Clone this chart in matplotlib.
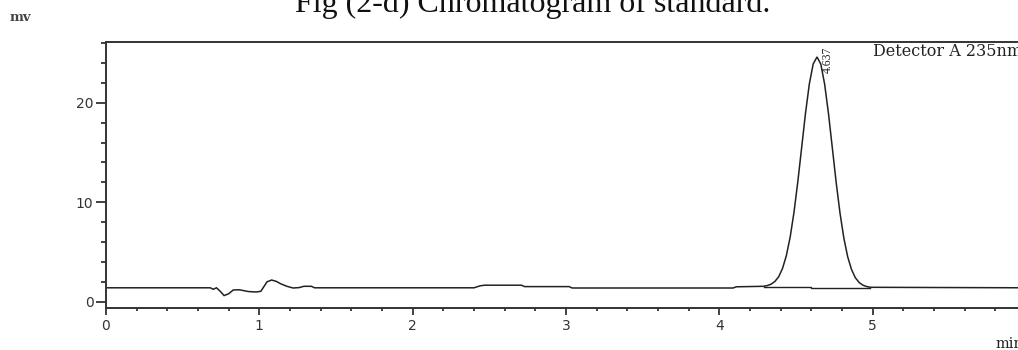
import matplotlib
matplotlib.use("Agg")
import matplotlib.pyplot as plt
from matplotlib.ticker import MultipleLocator

# ---- data (time in min, signal in mV) ----
trace_time = [0.0, 0.68, 0.70, 0.72, 0.745, 0.77, 0.80, 0.83, 0.87, 0.93, 0.98,
              1.01, 1.05, 1.08, 1.11, 1.14, 1.18, 1.22, 1.26, 1.29, 1.34, 1.36,
              2.40, 2.44, 2.47, 2.71, 2.73, 3.02, 3.04, 4.09, 4.11,
              4.287, 4.312, 4.337, 4.362, 4.387, 4.412, 4.437, 4.462, 4.487,
              4.512, 4.537, 4.562, 4.587, 4.612, 4.637,
              4.662, 4.687, 4.712, 4.737, 4.762, 4.787, 4.812, 4.837, 4.862,
              4.887, 4.912, 4.937, 4.962, 4.987, 6.0]
trace_mv = [1.40, 1.40, 1.25, 1.40, 1.05, 0.62, 0.80, 1.18, 1.20, 1.02, 0.98,
            1.05, 2.00, 2.18, 2.05, 1.80, 1.55, 1.38, 1.42, 1.55, 1.55, 1.40,
            1.40, 1.60, 1.66, 1.66, 1.52, 1.52, 1.38, 1.38, 1.50,
            1.55, 1.62, 1.76, 2.03, 2.51, 3.34, 4.63, 6.50, 9.00,
            12.08, 15.51, 18.94, 21.89, 23.89, 24.60,
            23.87, 21.84, 18.88, 15.45, 11.99, 8.91, 6.40, 4.52, 3.24,
            2.41, 1.93, 1.66, 1.52, 1.45, 1.40]

# integration baseline drawn under the peak
base_time = [4.29, 4.60, 4.60, 4.98]
base_mv = [1.50, 1.50, 1.40, 1.40]

peak_rt = 4.637
peak_label = "4.637"
x_major = [0, 1, 2, 3, 4, 5, 6]
y_major = [0, 10, 20]

title = "Fig (2-d) Chromatogram of standard."
detector = "Detector A 235nm"

# ---- figure ----
fig = plt.figure(figsize=(10.18, 3.5), dpi=100)
ax = fig.add_axes([106 / 1018, 42 / 350, 920 / 1018, 266 / 350])

ink = "#222222"
ax.plot(trace_time, trace_mv, color=ink, lw=1.1, solid_joinstyle="miter")
ax.plot(base_time, base_mv, color=ink, lw=1.0)

ax.set_xlim(0, 6)
ax.set_ylim(-0.63, 26.1)

for s in ["left", "bottom", "top"]:
    ax.spines[s].set_color("#333333")
    ax.spines[s].set_linewidth(1.4)
ax.spines["right"].set_visible(False)

ax.set_xticks(x_major)
ax.set_xticklabels([str(v) for v in x_major])
ax.xaxis.set_minor_locator(MultipleLocator(0.2))
ax.set_yticks(y_major)
ax.set_yticklabels([str(v) for v in y_major])
ax.yaxis.set_minor_locator(MultipleLocator(2))

ax.tick_params(axis="both", which="major", direction="out", length=7,
               width=1.3, color="#333333", labelsize=10, labelcolor="#333333",
               pad=2)
ax.tick_params(axis="both", which="minor", direction="out", length=3.5,
               width=1.3, color="#333333")
ax.tick_params(axis="x", which="major", length=5, pad=3)
ax.tick_params(axis="x", which="minor", length=2.5)

# peak label
ax.text(4.71, 23.0, peak_label, rotation=90, ha="center", va="bottom",
        fontsize=8.5, family="Liberation Serif", color=ink)

# texts in figure coords
fig.text(873 / 1018, 1 - 56 / 350, detector, fontsize=11.5,
         family="DejaVu Serif", color=ink, ha="left", va="baseline")
fig.text(533 / 1018, 1 - 12 / 350, title, ha="center", va="baseline",
         fontsize=23, family="Liberation Serif", color="#111111")
fig.text(10 / 1018, 1 - 21 / 350, "mv", ha="left", va="baseline",
         fontsize=9.5, family="DejaVu Serif", fontweight="bold", color="#444444")
fig.text(996 / 1018, 2 / 350, "min", ha="left", va="baseline",
         fontsize=10.5, family="DejaVu Serif", color=ink)

fig.savefig("out.png", dpi=100)
